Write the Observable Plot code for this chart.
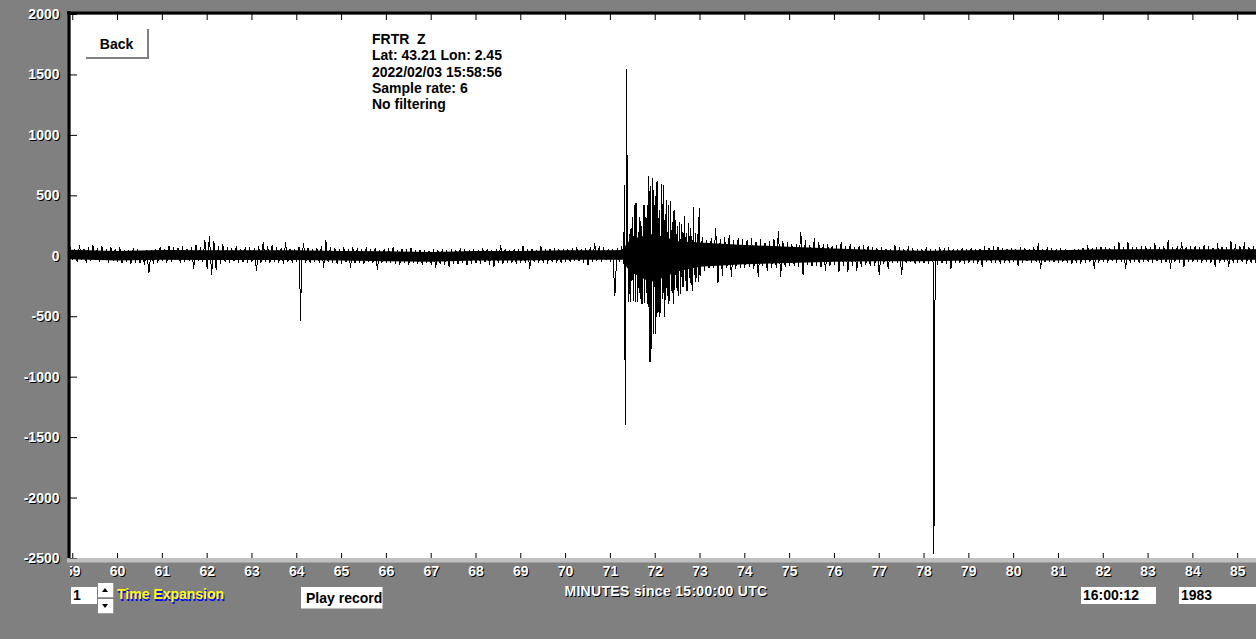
<!DOCTYPE html>
<html><head><meta charset="utf-8">
<script src="https://cdn.jsdelivr.net/npm/d3@7"></script>
<script src="https://cdn.jsdelivr.net/npm/@observablehq/plot@0.6"></script>
<style>
body{margin:0;background:#808080;width:1256px;height:639px;overflow:hidden;font-family:"Liberation Sans",Arial,sans-serif;}
#wrap{position:relative;width:1256px;height:639px;}
#chart{position:absolute;left:0;top:0;}
.ov{position:absolute;font-weight:bold;font-size:14px;white-space:pre;box-sizing:border-box;}
.box{background:#fff;color:#000;}
.tri-up{position:absolute;left:4px;top:5px;width:0;height:0;border-left:3.5px solid transparent;border-right:3.5px solid transparent;border-bottom:4px solid #000;}
.tri-dn{position:absolute;left:4px;top:5px;width:0;height:0;border-left:3.5px solid transparent;border-right:3.5px solid transparent;border-top:4px solid #000;}
</style></head>
<body><div id="wrap">
<div id="chart"></div>
<div class="ov box" style="left:86px;top:29px;width:63px;height:30px;border-right:2px solid #808080;border-bottom:2px solid #808080;text-align:center;line-height:30px;">Back</div>
<div class="ov" style="left:372px;top:31px;line-height:16.25px;color:#000;">FRTR  Z
Lat: 43.21 Lon: 2.45
2022/02/03 15:58:56
Sample rate: 6
No filtering</div>
<div class="ov box" style="left:71px;top:587px;width:26px;height:17px;line-height:17px;padding-left:2px;">1</div>
<div class="ov box" style="left:98px;top:583px;width:16px;height:15px;border-right:1px solid #a0a0a0;border-bottom:1px solid #a0a0a0;"><div class="tri-up"></div></div>
<div class="ov box" style="left:98px;top:599px;width:16px;height:15px;border-right:1px solid #a0a0a0;border-bottom:1px solid #a0a0a0;"><div class="tri-dn"></div></div>
<div class="ov" style="left:117px;top:586px;color:#ffff00;text-shadow:1px 2px 0 #0000ff;">Time Expansion</div>
<div class="ov box" style="left:301px;top:587px;width:82px;height:22px;line-height:22px;padding-left:5px;border-right:1px solid #c0c0c0;border-bottom:1px solid #c0c0c0;">Play record</div>
<div class="ov" style="left:466px;top:583px;width:400px;text-align:center;color:#fff;letter-spacing:0.3px;text-shadow:1px 1px 0 #000;">MINUTES since 15:00:00 UTC</div>
<div class="ov box" style="left:1081px;top:587px;width:75px;height:17px;line-height:17px;padding-left:2px;">16:00:12</div>
<div class="ov box" style="left:1179px;top:587px;width:77px;height:17px;line-height:17px;padding-left:2px;">1983</div>
</div>
<script>
// Axis ticks
const xTicks = d3.range(59, 86);           // minutes since 15:00:00 UTC
const yTicks = [2000, 1500, 1000, 500, 0, -500, -1000, -1500, -2000, -2500];
const xDomain = [58.95, 85.42];
const yDomain = [-2500, 2000];

// Trace: per 0.1-minute bin, upper and lower excursion (counts), one row per minute, bins start at 58.95
const traceHi = [
  [70, 55, 85, 60, 75, 90, 65, 80, 60, 75],
  [60, 70, 50, 45, 65, 55, 40, 50, 45, 60],
  [75, 60, 85, 70, 65, 80, 60, 70, 95, 75],
  [130, 165, 120, 80, 95, 70, 65, 80, 60, 75],
  [70, 65, 80, 115, 85, 90, 70, 65, 110, 60],
  [60, 75, 105, 70, 60, 65, 80, 130, 70, 65],
  [55, 70, 60, 75, 65, 55, 70, 60, 65, 50],
  [55, 65, 75, 50, 60, 55, 65, 45, 55, 50],
  [45, 55, 50, 60, 45, 55, 50, 65, 60, 50],
  [55, 50, 65, 60, 50, 55, 90, 60, 50, 55],
  [60, 85, 55, 60, 50, 80, 55, 60, 65, 55],
  [60, 55, 65, 70, 60, 65, 75, 105, 80, 70],
  [60, 55, 70, 85, 200, 190, 436, 312, 422, 657],
  [645, 615, 596, 460, 395, 300, 284, 330, 270, 408],
  [180, 160, 132, 150, 229, 140, 155, 170, 130, 145],
  [140, 130, 145, 120, 135, 110, 125, 140, 201, 120],
  [110, 100, 95, 201, 132, 90, 146, 118, 95, 100],
  [85, 90, 118, 80, 95, 75, 85, 90, 80, 75],
  [65, 70, 60, 55, 91, 70, 60, 85, 65, 55],
  [60, 77, 55, 60, 77, 65, 77, 60, 55, 65],
  [60, 65, 55, 60, 77, 70, 80, 75, 65, 60],
  [65, 60, 70, 65, 60, 70, 105, 60, 70, 65],
  [60, 65, 55, 50, 55, 60, 70, 91, 65, 70],
  [75, 70, 65, 80, 113, 70, 118, 75, 70, 80],
  [80, 75, 105, 70, 85, 132, 75, 80, 118, 75],
  [80, 85, 75, 90, 80, 70, 105, 80, 75, 124],
  [95, 80, 110, 75, 85, 70]
];
const traceLo = [
  [-30, -45, -25, -50, -35, -25, -40, -30, -55, -35],
  [-40, -55, -45, -60, -50, -55, -65, -140, -60, -50],
  [-35, -50, -40, -30, -55, -45, -35, -100, -40, -45],
  [-100, -155, -110, -60, -45, -50, -40, -55, -45, -50],
  [-45, -120, -50, -40, -55, -45, -50, -60, -45, -55],
  [-45, -60, -50, -55, -45, -50, -90, -45, -55, -60],
  [-60, -45, -95, -55, -50, -60, -45, -55, -110, -50],
  [-55, -50, -60, -65, -50, -70, -55, -60, -65, -55],
  [-65, -90, -60, -70, -85, -60, -65, -55, -70, -60],
  [-55, -60, -50, -65, -85, -55, -60, -50, -55, -60],
  [-50, -55, -100, -45, -55, -50, -60, -45, -55, -50],
  [-40, -45, -35, -40, -50, -75, -40, -35, -45, -30],
  [-40, -323, -45, -60, -378, -140, -378, -392, -300, -875],
  [-637, -502, -488, -390, -323, -280, -250, -280, -240, -212],
  [-150, -120, -100, -90, -221, -157, -95, -171, -100, -90],
  [-90, -85, -100, -171, -80, -120, -95, -90, -171, -85],
  [-80, -75, -85, -157, -70, -80, -75, -90, -116, -80],
  [-70, -130, -80, -130, -75, -115, -85, -70, -80, -75],
  [-150, -60, -102, -55, -50, -150, -55, -45, -60, -50],
  [-55, -60, -50, -65, -55, -60, -102, -50, -55, -60],
  [-55, -50, -60, -88, -45, -55, -50, -60, -55, -50],
  [-45, -75, -50, -40, -55, -45, -102, -50, -45, -50],
  [-50, -45, -55, -60, -55, -60, -50, -45, -102, -50],
  [-45, -50, -40, -55, -45, -102, -50, -45, -55, -40],
  [-45, -50, -40, -55, -50, -102, -45, -50, -88, -45],
  [-45, -40, -50, -45, -55, -88, -50, -45, -88, -50],
  [-50, -45, -60, -55, -50, -45]
];
const binStart = 58.95, binStep = 0.1;

// Strong shaking after the P arrival: finer bins (0.04 min) from 71.38
const codaHi = [200, 180, 230, 323, 250, 436, 200, 320, 250, 312, 320, 422, 657, 574, 643, 420, 615, 436, 380, 450,
                588, 350, 300, 420, 450, 280, 380, 300, 250, 215, 260, 200, 284, 190, 180, 229, 170, 229, 190, 160, 395];
const codaLo = [-140, -378, -200, -364, -378, -250, -300, -350, -392, -380, -300, -420, -875, -544, -640, -450, -502, -460, -420, -350,
                -502, -364, -300, -364, -280, -392, -280, -250, -323, -310, -220, -248, -200, -280, -180, -190, -282, -150, -144, -212, -160];
const codaStart = 71.38, codaStep = 0.04;

// Isolated large samples
const spikeT = [64.09, 71.31, 71.32, 71.34, 71.36, 78.21, 78.22];
const spikeV = [-535, 588, -630, -1391, 1548, -1230, -2458];

// Dense core of the trace (solid band)
const coreT  = [58.95, 60, 61, 62, 63, 64, 65, 66, 67, 68, 69, 70, 71, 71.3, 71.38, 71.6, 71.9, 72.2, 72.5, 73, 73.5, 74, 75, 76, 77, 78, 79, 80, 81, 82, 83, 84, 85, 85.45];
const coreHi = [50, 40, 48, 45, 45, 45, 40, 38, 32, 40, 40, 45, 45, 48, 110, 150, 180, 160, 120, 110, 100, 90, 75, 60, 48, 42, 45, 50, 45, 55, 55, 55, 55, 55];
const coreLo = [-28, -40, -32, -35, -35, -35, -40, -45, -50, -40, -40, -32, -32, -32, -100, -160, -220, -180, -130, -90, -80, -70, -60, -50, -45, -45, -40, -38, -40, -32, -32, -32, -32, -32];

const hiFlat = traceHi.flat(), loFlat = traceLo.flat();
const trace = [];
hiFlat.forEach((h, i) => {
  const t = binStart + i * binStep;
  trace.push({t, v: h});
  trace.push({t: t + binStep / 2, v: loFlat[i]});
});
codaHi.forEach((h, i) => {
  const t = codaStart + i * codaStep;
  trace.push({t, v: h});
  trace.push({t: t + codaStep / 2, v: codaLo[i]});
});
spikeT.forEach((t, i) => trace.push({t, v: spikeV[i]}));
trace.sort((a, b) => a.t - b.t);
const core = coreT.map((t, i) => ({t, hi: coreHi[i], lo: coreLo[i]}));

const font = {fontWeight: "bold", fontSize: 14};
const chart = Plot.plot({
  width: 1256, height: 639,
  marginLeft: 70, marginRight: 0, marginTop: 14, marginBottom: 81,
  style: {background: "transparent", fontFamily: "'Liberation Sans', Arial, sans-serif", overflow: "visible"},
  x: {domain: xDomain, axis: null},
  y: {domain: yDomain, axis: null},
  marks: [
    Plot.frame({fill: "white", stroke: "none"}),
    Plot.areaY(core, {x: "t", y1: "lo", y2: "hi", fill: "black", clip: true}),
    Plot.line(trace, {x: "t", y: "v", stroke: "black", strokeWidth: 1, clip: true, shapeRendering: "crispEdges"}),
    Plot.tickX(xTicks, {x: d => d, insetBottom: 538, stroke: "black"}),
    Plot.tickX(xTicks, {x: d => d, insetTop: 539, stroke: "black"}),
    Plot.tickY(yTicks, {y: d => d, insetRight: 1179, stroke: "black"}),
    Plot.ruleX([xDomain[0]], {stroke: "black", strokeWidth: 3, dx: -1.5, insetTop: -3}),
    Plot.ruleY([yDomain[1]], {stroke: "black", strokeWidth: 3, dy: -1.5, insetLeft: -3}),
    Plot.ruleY([yDomain[0]], {stroke: "#c0c0c0", strokeWidth: 4, dy: 2, insetLeft: -3}),
    Plot.text(yTicks, {y: d => d, text: d => String(d), frameAnchor: "left", textAnchor: "end", dx: -10, dy: 1, fill: "black", ...font}),
    Plot.text(yTicks, {y: d => d, text: d => String(d), frameAnchor: "left", textAnchor: "end", dx: -11, fill: "white", ...font}),
    Plot.text(xTicks, {x: d => d, text: d => String(d), frameAnchor: "bottom", dx: 1, dy: 18, fill: "black", ariaDescription: "xlab", ...font}),
    Plot.text(xTicks, {x: d => d, text: d => String(d), frameAnchor: "bottom", dy: 17, fill: "white", ariaDescription: "xlab", ...font})
  ]
});
document.getElementById("chart").appendChild(chart);
const svg = d3.select(chart);
svg.insert("defs", ":first-child").append("clipPath").attr("id", "lclip")
  .attr("clipPathUnits", "userSpaceOnUse")
  .append("rect").attr("x", 70).attr("y", -100).attr("width", 1300).attr("height", 900);
// wrap the x tick label groups in a clipped group so that the first label is cut at the plot edge
svg.selectAll('g[aria-description="xlab"]').each(function() {
  const wrapper = document.createElementNS("http://www.w3.org/2000/svg", "g");
  wrapper.setAttribute("clip-path", "url(#lclip)");
  this.parentNode.insertBefore(wrapper, this);
  wrapper.appendChild(this);
});
</script>
</body></html>
